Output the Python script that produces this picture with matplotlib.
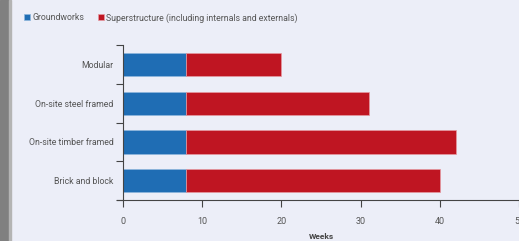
import matplotlib.pyplot as plt
import numpy as np
from matplotlib.patches import Rectangle

# data
categories = ["Brick and block", "On-site timber framed", "On-site steel framed", "Modular"]
groundworks = [8, 8, 8, 8]
superstructure = [32, 34, 23, 12]   # totals 40, 42, 31, 20
xticks = [0, 10, 20, 30, 40, 50]

blue = "#1f6db4"
red = "#bf1522"
bg = "#eceef8"
txt = "#555555"

plt.rcParams['font.family'] = ['Roboto', 'DejaVu Sans']

fig = plt.figure(figsize=(5.19, 2.41), dpi=100, facecolor=bg)
# grey strip on the left edge
fig.patches.append(Rectangle((0, 0), 9 / 519, 1, transform=fig.transFigure, color="#808080", zorder=0))
fig.patches.append(Rectangle((9 / 519, 0), 2.5 / 519, 1, transform=fig.transFigure, color="#b4b4b4", zorder=0))

ax = fig.add_axes([123 / 519, 41 / 241, 1 - 123 / 519, 155 / 241])
ax.set_facecolor(bg)

y = np.arange(len(categories))
ax.barh(y, groundworks, height=0.6, color=blue, edgecolor="#8fb6dd", linewidth=0.5, label="Groundworks")
ax.barh(y, superstructure, left=groundworks, height=0.6, color=red, edgecolor="#e59aa2",
        linewidth=0.5, label="Superstructure (including internals and externals)")

ax.set_xlim(0, 50)
ax.set_ylim(-0.5, len(categories) - 0.5)
ax.set_xticks(xticks)
ax.set_xticklabels([str(v) for v in xticks], fontsize=6.5, color=txt)
ax.tick_params(axis='x', length=5, width=0.8, color="#444444", pad=7)
ax.set_yticks(y)
ax.set_yticklabels(categories, fontsize=6.3, color=txt)
ax.tick_params(axis='y', which='major', length=0, pad=7)
ax.set_yticks(np.arange(-0.5, len(categories)), minor=True)
ax.tick_params(axis='y', which='minor', length=5, width=0.8, color="#444444")

for s in ["top", "right"]:
    ax.spines[s].set_visible(False)
for s in ["left", "bottom"]:
    ax.spines[s].set_color("#444444")
    ax.spines[s].set_linewidth(0.8)
ax.spines["bottom"].set_bounds(-0.75, 50)
ax.spines["bottom"].set_clip_on(False)

ax.set_xlabel("Weeks", fontsize=6, fontweight="bold", color="#444444", labelpad=5)

leg = fig.legend(loc="upper left", bbox_to_anchor=(24 / 519, 1 - 13 / 241), ncol=2, frameon=False,
                 fontsize=6.3, handlelength=0.7, handleheight=0.7, handletextpad=0.3,
                 columnspacing=1.5, borderaxespad=0, borderpad=0)
for t in leg.get_texts():
    t.set_color(txt)

fig.savefig("out.png", dpi=100, facecolor=bg)
